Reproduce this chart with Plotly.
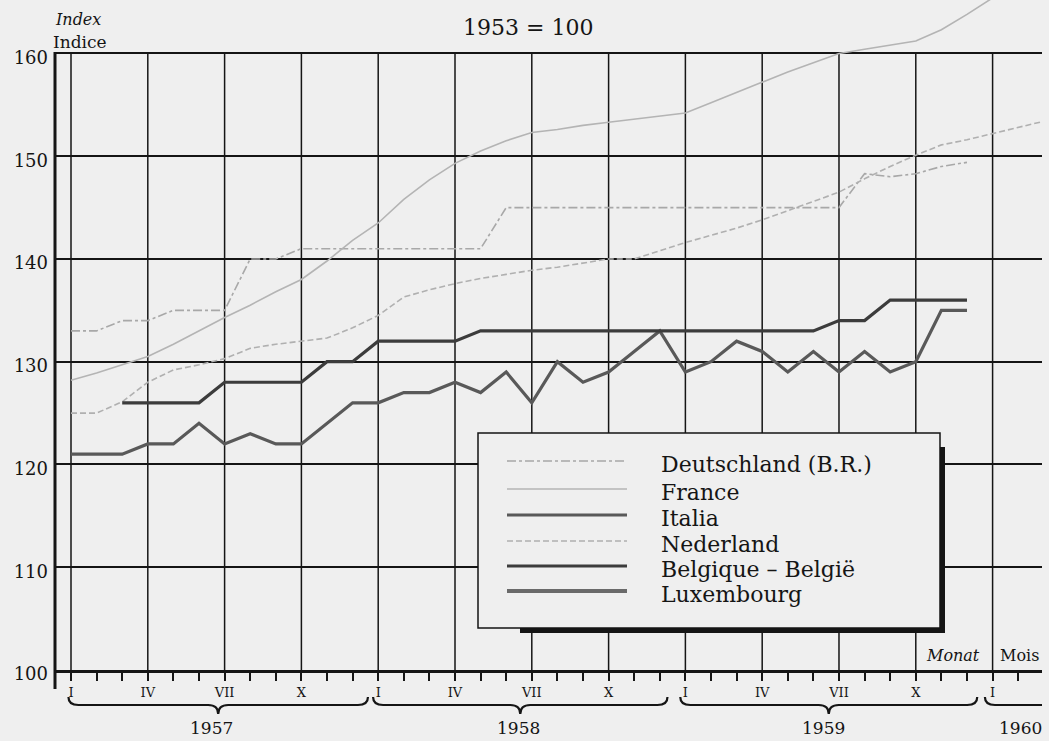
import plotly.graph_objects as go

# ---------------- data (month index: 0 = January 1957) ----------------
quarter_ticks = [0, 3, 6, 9, 12, 15, 18, 21, 24, 27, 30, 33, 36]
quarter_labels = ["I", "IV", "VII", "X"] * 3 + ["I"]
y_ticks = [100, 110, 120, 130, 140, 150, 160]
years = ["1957", "1958", "1959", "1960"]

de_months = list(range(0, 36))
de_values = [133, 133, 134, 134, 135, 135, 135, 140, 140, 141, 141, 141,
             141, 141, 141, 141, 141, 145, 145, 145, 145, 145, 145, 145,
             145, 145, 145, 145, 145, 145, 145, 148.3, 148, 148.3, 149, 149.4]

fr_months = list(range(0, 37))
fr_values = [128.2, 128.9, 129.7, 130.5, 131.7, 133.0, 134.3, 135.5, 136.8, 138.0, 139.8, 141.8,
             143.5, 145.8, 147.7, 149.3, 150.5, 151.5, 152.3, 152.6, 153.0, 153.3, 153.6, 153.9,
             154.2, 155.2, 156.2, 157.2, 158.2, 159.1, 160.0, 160.4, 160.8, 161.2, 162.3, 163.8,
             165.4]

it_months = list(range(0, 36))
it_values = [121, 121, 121, 122, 122, 124, 122, 123, 122, 122, 124, 126,
             126, 127, 127, 128, 127, 129, 126, 130, 128, 129, 131, 133,
             129, 130, 132, 131, 129, 131, 129, 131, 129, 130, 135, 135]

nl_months = list(range(0, 39))
nl_values = [125, 125, 126.1, 128, 129.2, 129.7, 130.3, 131.3, 131.7, 132, 132.3, 133.3,
             134.5, 136.3, 137, 137.6, 138.1, 138.5, 138.9, 139.2, 139.6, 140, 140, 140.8,
             141.6, 142.3, 143, 143.8, 144.7, 145.6, 146.5, 147.8, 149, 150.1, 151.1, 151.6,
             152.2, 152.8, 153.4]

be_months = list(range(2, 36))
be_values = [126, 126, 126, 126, 128, 128, 128, 128, 130, 130,
             132, 132, 132, 132, 133, 133, 133, 133, 133, 133,
             133, 133, 133, 133, 133, 133, 133, 133, 134, 134,
             136, 136, 136, 136]

series_names = ["Deutschland (B.R.)", "France", "Italia", "Nederland",
                "Belgique – België", "Luxembourg"]

# ---------------- styling ----------------
FONT = "DejaVu Serif"
BG = "#efefef"
INK = "#151515"
styles = {
    "Deutschland (B.R.)": dict(color="#a8a8a8", width=1.6, dash="dashdot"),
    "France": dict(color="#b4b4b4", width=1.6, dash="solid"),
    "Italia": dict(color="#595959", width=3.2, dash="solid"),
    "Nederland": dict(color="#b0b0b0", width=1.6, dash="6px,3px"),
    "Belgique – België": dict(color="#3c3c3c", width=3.2, dash="solid"),
    "Luxembourg": dict(color="#6a6a6a", width=4, dash="solid"),
}

W, H = 1049, 741
ML, MR, MT, MB = 55, 7, 0, 71
X_RANGE = [-0.625, 37.93]
Y_RANGE = [100, 165.2]
PW, PH = W - ML - MR, H - MT - MB


def pxx(px):
    return (px - ML) / PW


def pxy(py):
    return (H - MB - py) / PH


def mx(m):
    return (m - X_RANGE[0]) / (X_RANGE[1] - X_RANGE[0])


def vy(v):
    return (v - Y_RANGE[0]) / (Y_RANGE[1] - Y_RANGE[0])


fig = go.Figure()
series = [
    ("Deutschland (B.R.)", de_months, de_values),
    ("France", fr_months, fr_values),
    ("Nederland", nl_months, nl_values),
    ("Italia", it_months, it_values),
    ("Belgique – België", be_months, be_values),
]
for name, xs, ys in series:
    fig.add_trace(go.Scatter(x=xs, y=ys, mode="lines", name=name,
                             line=styles[name], showlegend=False))

shapes = []
# vertical grid lines (quarters), stop at the 160 line
for q in quarter_ticks:
    shapes.append(dict(type="line", xref="x", yref="y", x0=q, x1=q,
                       y0=y_ticks[0], y1=y_ticks[-1],
                       line=dict(color=INK, width=1.5), layer="below"))
# y axis line (extends a little below the x axis)
shapes.append(dict(type="line", xref="paper", yref="paper", x0=0, x1=0,
                   y0=pxy(689), y1=vy(y_ticks[-1]) + 0.002,
                   line=dict(color=INK, width=3)))

# year braces
brace_spans = [(-0.1, 11.6), (11.8, 23.3), (23.8, 35.4), (35.7, 38.5)]
yTop, yLine, yTip = pxy(697), pxy(705), pxy(714)
for i, (a, b) in enumerate(brace_spans):
    xL, xR = mx(a), mx(b)
    d = 10 / PW
    if i < 3:
        xm = (xL + xR) / 2
        path = (f"M{xL},{yTop} Q{xL},{yLine} {xL + d},{yLine} L{xm - d},{yLine} "
                f"Q{xm},{yLine} {xm},{yTip} Q{xm},{yLine} {xm + d},{yLine} "
                f"L{xR - d},{yLine} Q{xR},{yLine} {xR},{yTop}")
    else:
        path = f"M{xL},{yTop} Q{xL},{yLine} {xL + d},{yLine} L{min(xR, 1.0)},{yLine}"
    shapes.append(dict(type="path", xref="paper", yref="paper", path=path,
                       line=dict(color=INK, width=2.2)))

# legend box (drawn manually to match the long line samples)
box_l, box_t, box_r, box_b = 478, 433, 940, 628
shapes.append(dict(type="rect", xref="paper", yref="paper",
                   x0=pxx(520), x1=pxx(945), y0=pxy(633), y1=pxy(447),
                   fillcolor=INK, line=dict(width=0), layer="above"))
shapes.append(dict(type="rect", xref="paper", yref="paper",
                   x0=pxx(box_l), x1=pxx(box_r), y0=pxy(box_b), y1=pxy(box_t),
                   fillcolor=BG, line=dict(color=INK, width=1.5), layer="above"))
legend_rows = [461, 489, 515, 541, 566, 591]
annotations = []
for name, ry in zip(series_names, legend_rows):
    st = styles[name]
    shapes.append(dict(type="line", xref="paper", yref="paper",
                       x0=pxx(507), x1=pxx(627), y0=pxy(ry), y1=pxy(ry),
                       line=dict(color=st["color"], width=st["width"], dash=st["dash"]),
                       layer="above"))
    annotations.append(dict(x=pxx(659), y=pxy(ry + 3), xref="paper", yref="paper",
                            text=name, showarrow=False, xanchor="left", yanchor="middle",
                            font=dict(family=FONT, size=22, color=INK)))


# texts
def txt(text, x, y, size, xanchor="center"):
    annotations.append(dict(x=x, y=y, xref="paper", yref="paper", text=text,
                            showarrow=False, xanchor=xanchor, yanchor="middle",
                            font=dict(family=FONT, size=size, color=INK)))


txt("1953 = 100", pxx(528), pxy(28), 22)
txt("<i>Index</i>", pxx(78), pxy(19), 16)
txt("Indice", pxx(80), pxy(42), 17)
txt("<i>Monat</i>", pxx(953), pxy(655), 16)
txt("Mois", pxx(1019), pxy(655), 16)
year_centers = [5.5, 17.5, 29.4, 37.1]
for yr, c in zip(years, year_centers):
    txt(yr, mx(c), pxy(728), 17)

fig.update_layout(
    width=W, height=H,
    margin=dict(l=ML, r=MR, t=MT, b=MB),
    paper_bgcolor=BG, plot_bgcolor=BG,
    showlegend=False,
    shapes=shapes, annotations=annotations,
    xaxis=dict(range=X_RANGE, showgrid=False, zeroline=False,
               showline=True, linewidth=3, linecolor=INK,
               tickmode="array", tickvals=quarter_ticks, ticktext=quarter_labels,
               ticks="outside", ticklen=8, tickwidth=1.5, tickcolor=INK,
               tickfont=dict(family=FONT, size=13, color=INK),
               minor=dict(tickmode="array", tickvals=list(range(0, 39)),
                          ticks="outside", ticklen=8, tickwidth=1.5,
                          tickcolor=INK, showgrid=False)),
    yaxis=dict(range=Y_RANGE, showgrid=True, gridcolor=INK, gridwidth=1.5,
               zeroline=False, showline=False,
               tickmode="array", tickvals=y_ticks,
               ticktext=[str(v) for v in y_ticks], ticks="",
               ticklabelshift=4, ticklabelstandoff=6,
               tickfont=dict(family=FONT, size=18, color=INK)),
)

fig.write_html(
    "out.html",
    config={"displayModeBar": False},
    post_script=("document.body.style.margin='0px';"
                 "document.body.style.overflow='hidden';"
                 "document.body.style.background='#efefef';"),
)
